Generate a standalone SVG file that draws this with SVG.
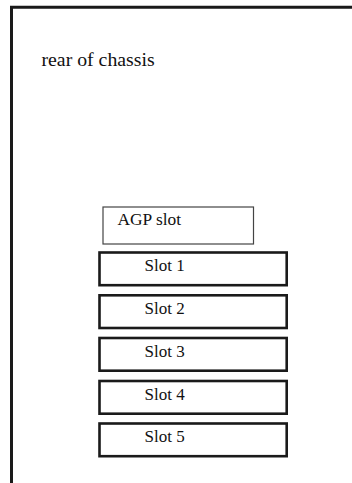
<svg xmlns="http://www.w3.org/2000/svg" width="352" height="483" viewBox="0 0 352 483">
<style>
text{font-family:"Liberation Serif","Times New Roman",serif;font-size:17px;fill:#111}
.slot{fill:#fff;stroke:#1a1a1a;stroke-width:2.6}
.agp{fill:#fff;stroke:#444;stroke-width:1.2}
</style>
<rect width="352" height="483" fill="#fff"/>
<g id="chassis">
<path d="M11.5,483 V7.3 H352" fill="none" stroke="#1a1a1a" stroke-width="3"/>
<text x="41.5" y="65.7" style="font-size:19.8px">rear of chassis</text>
</g>
<g id="agp">
<rect class="agp" x="103" y="207" width="150.5" height="37"/>
<text x="117.5" y="224.5" style="font-size:17.4px">AGP slot</text>
</g>
<g id="slot1"><rect class="slot" x="99.5" y="252.5" width="187.2" height="32.7"/><text x="144.5" y="271">Slot 1</text></g>
<g id="slot2"><rect class="slot" x="99.5" y="295.3" width="187.2" height="32.7"/><text x="144.5" y="313.8">Slot 2</text></g>
<g id="slot3"><rect class="slot" x="99.5" y="338" width="187.2" height="32.7"/><text x="144.5" y="356.5">Slot 3</text></g>
<g id="slot4"><rect class="slot" x="99.5" y="381" width="187.2" height="32.7"/><text x="144.5" y="399.5">Slot 4</text></g>
<g id="slot5"><rect class="slot" x="99.5" y="423.5" width="187.2" height="32.7"/><text x="144.5" y="442">Slot 5</text></g>
<g id="connectors"/>
</svg>
